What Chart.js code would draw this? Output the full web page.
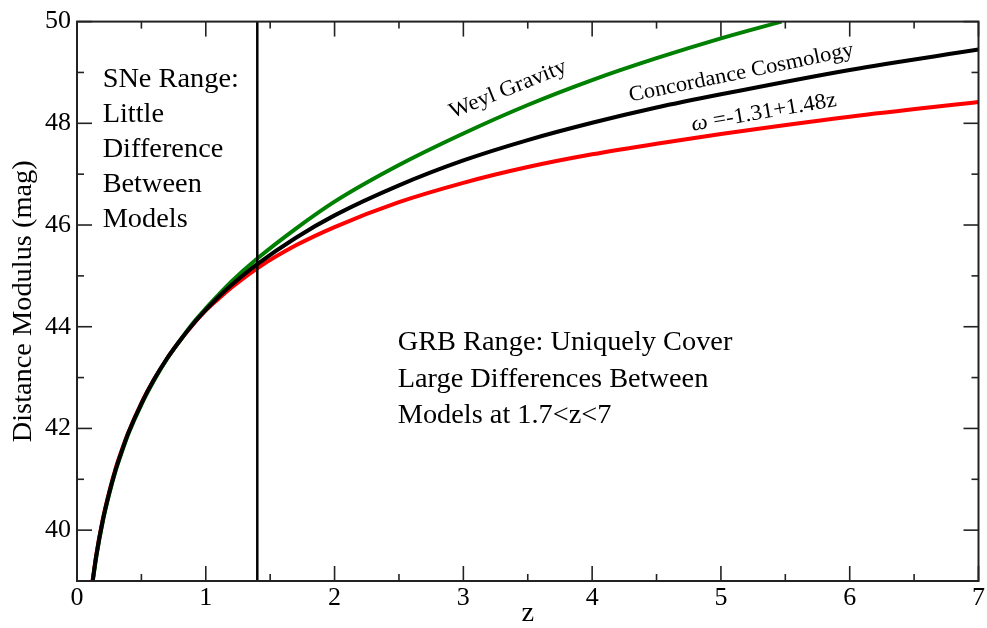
<!DOCTYPE html>
<html>
<head>
<meta charset="utf-8">
<script src="https://cdn.jsdelivr.net/npm/chart.js@4"></script>
<style>
  html, body { margin: 0; padding: 0; background: #fff; }
  #wrap { width: 987px; height: 628px; }
</style>
</head>
<body>
<div id="wrap"><canvas id="muChart" width="987" height="628"></canvas></div>
<script>
// redshift grid and distance moduli (mag)
const zGrid = [0.12, 0.15, 0.2, 0.25, 0.3, 0.35, 0.4, 0.5, 0.6, 0.7, 0.8, 0.9, 1.0, 1.1, 1.2, 1.4,
               1.7, 2.0, 2.5, 3.0, 3.5, 4.0, 4.5, 5.0, 6.0, 7.0];
const muConcordance = [38.97, 39.5, 40.19, 40.73, 41.19, 41.57, 41.92, 42.49, 42.97, 43.38, 43.73, 44.05, 44.33, 44.59, 44.82, 45.23,
                       45.75, 46.19, 46.78, 47.27, 47.67, 48.01, 48.31, 48.57, 49.05, 49.45];
const muVaryingW = [38.99, 39.52, 40.21, 40.75, 41.21, 41.59, 41.93, 42.5, 42.97, 43.38, 43.73, 44.04, 44.32, 44.55, 44.77, 45.15,
                    45.6, 45.96, 46.45, 46.83, 47.14, 47.39, 47.6, 47.79, 48.13, 48.42];

const zWeyl = [0.12, 0.15, 0.2, 0.25, 0.3, 0.35, 0.4, 0.5, 0.6, 0.7, 0.8, 0.9, 1.0, 1.1, 1.2, 1.4,
               1.7, 2.0, 2.5, 3.0, 3.5, 4.0, 4.5, 5.0, 5.47];
const muWeyl = [38.95, 39.48, 40.17, 40.71, 41.17, 41.55, 41.9, 42.47, 42.95, 43.37, 43.73, 44.07, 44.36, 44.63, 44.89, 45.34,
                45.93, 46.46, 47.18, 47.8, 48.36, 48.85, 49.28, 49.67, 50.0];

// upper redshift of the supernova sample
const snLimitZ = 1.4;

// axes
const xMin = 0, xMax = 7;
const yMin = 39, yMax = 50;
const xMajor = [0, 1, 2, 3, 4, 5, 6, 7];
const xMinor = [0.5, 1.5, 2.5, 3.5, 4.5, 5.5, 6.5];
const yMajor = [40, 42, 44, 46, 48, 50];
const yMinor = [39, 41, 43, 45, 47, 49];

const SERIF = '"Liberation Serif", "DejaVu Serif", serif';
const STRETCH = 1.05;

function pairs(xs, ys) {
  return xs.map((x, i) => ({ x: x, y: ys[i] }));
}

function curve(label, xs, ys, color, order) {
  return {
    label: label,
    data: pairs(xs, ys),
    borderColor: color,
    borderWidth: 4,
    pointRadius: 0,
    cubicInterpolationMode: 'monotone',
    fill: false,
    clip: 0,
    order: order
  };
}

// text blocks inside the plot, anchored at (z, mu) of the first baseline
const notes = [
  { lines: ['SNe Range:', 'Little', 'Difference', 'Between', 'Models'], x: 0.199, y: 48.72, size: 27, gap: 35 },
  { lines: ['GRB Range: Uniquely Cover', 'Large Differences Between', 'Models at 1.7<z<7'], x: 2.49, y: 43.545, size: 27, gap: 36.7 }
];
// labels running along the curves, anchored at their baseline centre
const curveLabels = [
  { text: 'Weyl Gravity', x: 3.364, y: 48.56, angle: -22, size: 22 },
  { text: 'Concordance Cosmology', x: 5.167, y: 48.88, angle: -11.6, size: 21.5 },
  { lead: 'ω', text: ' =-1.31+1.48z', x: 5.341, y: 48.1, angle: -9.8, size: 22 }
];

const framePlugin = {
  id: 'framePlugin',
  afterDatasetsDraw(chart) {
    const ctx = chart.ctx;
    const a = chart.chartArea;
    const xs = chart.scales.x, ys = chart.scales.y;
    ctx.save();
    ctx.strokeStyle = '#222';
    ctx.lineWidth = 1.6;
    function tick(x1, y1, x2, y2) {
      ctx.beginPath(); ctx.moveTo(x1, y1); ctx.lineTo(x2, y2); ctx.stroke();
    }
    xMajor.forEach(v => {
      const px = xs.getPixelForValue(v);
      tick(px, a.bottom, px, a.bottom - 15);
      tick(px, a.top, px, a.top + 15);
    });
    xMinor.forEach(v => {
      const px = xs.getPixelForValue(v);
      tick(px, a.bottom, px, a.bottom - 7);
      tick(px, a.top, px, a.top + 7);
    });
    yMajor.forEach(v => {
      const py = ys.getPixelForValue(v);
      tick(a.left, py, a.left + 15, py);
      tick(a.right, py, a.right - 15, py);
    });
    yMinor.forEach(v => {
      const py = ys.getPixelForValue(v);
      tick(a.left, py, a.left + 7, py);
      tick(a.right, py, a.right - 7, py);
    });
    ctx.lineWidth = 2;
    ctx.strokeRect(a.left, a.top, a.right - a.left, a.bottom - a.top);
    ctx.restore();
  },
  afterDraw(chart) {
    const ctx = chart.ctx;
    const a = chart.chartArea;
    const xs = chart.scales.x, ys = chart.scales.y;
    ctx.save();
    ctx.fillStyle = '#000';
    ctx.textBaseline = 'alphabetic';

    // free text blocks
    notes.forEach(n => {
      const px = xs.getPixelForValue(n.x);
      const py = ys.getPixelForValue(n.y);
      n.lines.forEach((line, i) => {
        ctx.save();
        ctx.translate(px, py + i * n.gap);
        ctx.scale(STRETCH, 1);
        ctx.font = n.size + 'px ' + SERIF;
        ctx.textAlign = 'left';
        ctx.fillText(line, 0, 0);
        ctx.restore();
      });
    });

    // labels along the curves
    curveLabels.forEach(l => {
      const px = xs.getPixelForValue(l.x);
      const py = ys.getPixelForValue(l.y);
      ctx.save();
      ctx.translate(px, py);
      ctx.rotate(l.angle * Math.PI / 180);
      ctx.scale(STRETCH, 1);
      const regular = l.size + 'px ' + SERIF;
      const italic = 'italic ' + l.size + 'px ' + SERIF;
      ctx.font = italic;
      const leadW = l.lead ? ctx.measureText(l.lead).width : 0;
      ctx.font = regular;
      const total = leadW + ctx.measureText(l.text).width;
      ctx.textAlign = 'left';
      if (l.lead) {
        ctx.font = italic;
        ctx.fillText(l.lead, -total / 2, 0);
        ctx.font = regular;
      }
      ctx.fillText(l.text, -total / 2 + leadW, 0);
      ctx.restore();
    });

    // axis titles
    ctx.save();
    ctx.translate((a.left + a.right) / 2, 621);
    ctx.scale(STRETCH, 1);
    ctx.font = '27px ' + SERIF;
    ctx.textAlign = 'center';
    ctx.fillText('z', 0, 0);
    ctx.restore();

    ctx.save();
    ctx.translate(31, (a.top + a.bottom) / 2);
    ctx.rotate(-Math.PI / 2);
    ctx.scale(STRETCH, 1);
    ctx.font = '27px ' + SERIF;
    ctx.textAlign = 'center';
    ctx.fillText('Distance Modulus (mag)', 0, 0);
    ctx.restore();

    ctx.restore();
  }
};

new Chart(document.getElementById('muChart').getContext('2d'), {
  type: 'line',
  data: {
    datasets: [
      {
        label: 'SNe limit',
        data: [{ x: snLimitZ, y: yMin }, { x: snLimitZ, y: yMax }],
        borderColor: '#000',
        borderWidth: 2.5,
        pointRadius: 0,
        clip: 0,
        order: 0
      },
      curve('Concordance Cosmology', zGrid, muConcordance, '#000000', 1),
      curve('Weyl Gravity', zWeyl, muWeyl, '#008000', 2),
      curve('w = -1.31 + 1.48z', zGrid, muVaryingW, '#ff0000', 3)
    ]
  },
  options: {
    responsive: false,
    animation: false,
    layout: { padding: { top: 16, right: 5, left: 0, bottom: 0 } },
    plugins: {
      legend: { display: false },
      tooltip: { enabled: false }
    },
    scales: {
      x: {
        type: 'linear',
        min: xMin,
        max: xMax,
        grid: { display: false, drawTicks: false },
        border: { display: false },
        afterBuildTicks: axis => { axis.ticks = xMajor.map(v => ({ value: v })); },
        afterFit: scale => { scale.height = 47; },
        ticks: {
          color: '#000',
          padding: 2,
          maxRotation: 0,
          font: { family: SERIF, size: 26 }
        }
      },
      y: {
        type: 'linear',
        min: yMin,
        max: yMax,
        grid: { display: false, drawTicks: false },
        border: { display: false },
        afterBuildTicks: axis => { axis.ticks = yMajor.map(v => ({ value: v })); },
        afterFit: scale => { scale.width = 77; },
        ticks: {
          color: '#000',
          padding: 6,
          font: { family: SERIF, size: 26 }
        }
      }
    }
  },
  plugins: [framePlugin]
});
</script>
</body>
</html>
